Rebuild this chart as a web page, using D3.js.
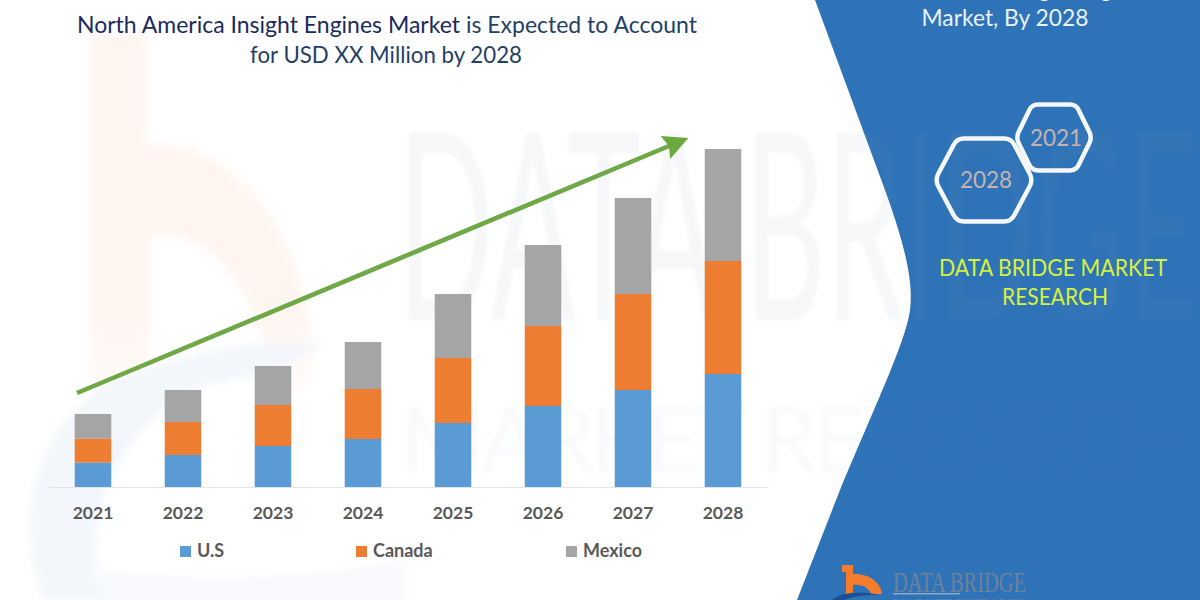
<!DOCTYPE html>
<html>
<head>
<meta charset="utf-8">
<script src="https://cdn.jsdelivr.net/npm/d3@7/dist/d3.min.js"></script>
<style>
html,body{margin:0;padding:0;background:#fff;overflow:hidden}
svg{display:block}
text{font-family:Lato,"Open Sans",sans-serif}
</style>
</head>
<body>
<svg id="chart" width="1200" height="600"></svg>
<script>
const years = ["2021","2022","2023","2024","2025","2026","2027","2028"];
const seriesNames = ["U.S","Canada","Mexico"];
const usValues = [24.5,32,41,48,64,81,97,113];
const canadaValues = [24,33,41,50,65,80,96,113];
const mexicoValues = [24.5,32,39,47,64,81,96,112];
const seriesColors = ["#5B9BD5","#ED7D31","#A5A5A5"];
const trendValues = [94,350];

const svg = d3.select("#chart");
const width = 1200, height = 600;

const x = d3.scaleBand().domain(years).range([48,768]).paddingInner(0.594).paddingOuter(0.297);
const y = d3.scaleLinear().domain([0,338]).range([487,149]);

const rows = years.map((year,i)=>({year,"U.S":usValues[i],"Canada":canadaValues[i],"Mexico":mexicoValues[i]}));
const stacked = d3.stack().keys(seriesNames)(rows);
const color = d3.scaleOrdinal().domain(seriesNames).range(seriesColors);

/* background */
const defs = svg.append("defs");
const fade = defs.append("linearGradient").attr("id","peachFade").attr("x1",0).attr("x2",0).attr("y1",0).attr("y2",1);
fade.append("stop").attr("offset",0.7).attr("stop-color","#fff5f0");
fade.append("stop").attr("offset",1).attr("stop-color","#fff5f0").attr("stop-opacity",0.1);
defs.append("filter").attr("id","soft").attr("x","-10%").attr("y","-10%").attr("width","120%").attr("height","120%")
  .append("feGaussianBlur").attr("stdDeviation",4);
defs.append("filter").attr("id","softText").append("feGaussianBlur").attr("stdDeviation",1.5);

const marker = defs.append("marker").attr("id","arrowHead").attr("markerUnits","userSpaceOnUse")
  .attr("viewBox","0 0 30 30").attr("refX",4).attr("refY",15).attr("markerWidth",30).attr("markerHeight",30).attr("orient","auto");
marker.append("path").attr("d","M0,2.5L25,15L0,27.5L4,15Z").attr("fill","#6BA83F");

const bg = svg.append("g");
bg.append("rect").attr("width",width).attr("height",height).attr("fill","#fff");
const soft = bg.append("g").attr("filter","url(#soft)");
soft.append("path").attr("fill","url(#peachFade)")
  .attr("d","M90,35H147V145C225,140 300,215 312,345C316,385 300,400 265,395C272,320 225,225 150,235V400C120,405 100,410 90,430Z");
soft.append("path").attr("fill","#f3f6fb")
  .attr("d","M45,600C8,510 40,410 130,375C190,350 270,338 325,345C285,365 270,375 240,378C170,388 130,430 102,500C90,550 95,580 105,600Z");
soft.append("path").attr("fill","#f7f9fc")
  .attr("d","M102,570Q250,590 405,560L405,610H105Z");

/* blue panel */
svg.append("path").attr("fill","#2E73B8")
  .attr("d","M815,0L885,190C903,240 914,280 910,310C906,340 880,395 840,490L797,600H1200V0Z");

/* word watermark, over both the white ground and the panel */
const wm = svg.append("g").attr("fill","#6F8CAB").attr("filter","url(#softText)");
wm.append("text").attr("x",398).attr("y",320).attr("font-size",262).attr("fill-opacity",0.07)
  .attr("textLength",800).attr("lengthAdjust","spacingAndGlyphs").text("DATA BRIDGE");
wm.append("text").attr("x",400).attr("y",472).attr("font-size",92).attr("fill-opacity",0.04)
  .attr("textLength",790).attr("lengthAdjust","spacing").text("MARKET RESEARCH");

/* title */
const t1 = svg.append("text").attr("x",387).attr("y",33).attr("text-anchor","middle")
  .attr("font-size",23).attr("textLength",620).attr("lengthAdjust","spacingAndGlyphs");
t1.append("tspan").attr("fill","#1B2A5C").text("North America Insight Engines Market ");
t1.append("tspan").attr("fill","#243F66").text("is Expected to Account");
svg.append("text").attr("x",386).attr("y",63).attr("text-anchor","middle").attr("fill","#243F66")
  .attr("font-size",23).attr("textLength",272).attr("lengthAdjust","spacingAndGlyphs").text("for USD XX Million by 2028");

/* bars */
svg.append("g").selectAll("g").data(stacked).join("g").attr("fill",d=>color(d.key))
  .selectAll("rect").data(d=>d).join("rect")
  .attr("x",d=>x(d.data.year)).attr("width",x.bandwidth())
  .attr("y",d=>y(d[1])).attr("height",d=>y(d[0])-y(d[1]));

/* axis */
const axis = svg.append("g").attr("transform",`translate(0,${y(0)})`)
  .call(d3.axisBottom(x).tickSize(0).tickPadding(20));
axis.select(".domain").attr("stroke","#e4e4e4").attr("stroke-width",1);
axis.selectAll("text").style("font-family","Lato").attr("font-size",17.5).attr("font-weight",700).attr("fill","#595959");

/* trend arrow */
const trendX = [x("2021")+x.bandwidth()/2-16, x("2028")+x.bandwidth()/2-54];
const trendLine = d3.line().x((d,i)=>trendX[i]).y(d=>y(d));
svg.append("path").attr("d",trendLine([trendValues[0],trendValues[1]-9])).attr("fill","none")
  .attr("stroke","#6FA847").attr("stroke-width",4.6).attr("marker-end","url(#arrowHead)");

/* legend */
const legendX = d3.scaleOrdinal().domain(seriesNames).range([180,356,566]);
const lg = svg.append("g").selectAll("g").data(seriesNames).join("g")
  .attr("transform",d=>`translate(${legendX(d)},546)`);
lg.append("rect").attr("width",11).attr("height",11).attr("fill",d=>color(d));
lg.append("text").attr("x",17).attr("y",11).attr("font-size",18).attr("font-weight",700)
  .attr("fill","#595959").text(d=>d);

/* right panel text */
const panel = svg.append("g").attr("text-anchor","middle");
panel.append("text").attr("x",1005).attr("y",-3).attr("fill","#EAF2FA").attr("font-size",23.5)
  .attr("textLength",290).attr("lengthAdjust","spacingAndGlyphs").text("North America Insight Engines");
panel.append("text").attr("x",1005).attr("y",26).attr("fill","#EAF2FA").attr("font-size",23.5)
  .attr("textLength",167).attr("lengthAdjust","spacingAndGlyphs").text("Market, By 2028");

function hexPath(cx,cy,w,h,top,r){
  const p=[[cx-w/2,cy],[cx-top/2,cy-h/2],[cx+top/2,cy-h/2],[cx+w/2,cy],[cx+top/2,cy+h/2],[cx-top/2,cy+h/2]];
  const path=d3.path();
  p.forEach((v,i)=>{
    const a=p[(i+5)%6],b=p[(i+1)%6];
    const la=Math.hypot(a[0]-v[0],a[1]-v[1]),lb=Math.hypot(b[0]-v[0],b[1]-v[1]);
    const s=[v[0]+(a[0]-v[0])*r/la,v[1]+(a[1]-v[1])*r/la],e=[v[0]+(b[0]-v[0])*r/lb,v[1]+(b[1]-v[1])*r/lb];
    if(i===0)path.moveTo(s[0],s[1]);else path.lineTo(s[0],s[1]);
    path.quadraticCurveTo(v[0],v[1],e[0],e[1]);
  });
  path.closePath();
  return path.toString();
}
const hexes=[{label:"2028",cx:984,cy:180,w:98,h:83,top:54,r:7,fs:22.5},{label:"2021",cx:1054,cy:137.5,w:76,h:66,top:44,r:6,fs:22.5}];
const hg=svg.append("g").selectAll("g").data(hexes).join("g");
hg.append("path").attr("d",d=>hexPath(d.cx,d.cy,d.w,d.h,d.top,d.r)).attr("fill","none").attr("stroke","#F4F8FC").attr("stroke-width",4.5);
hg.append("text").attr("x",d=>d.cx+2).attr("y",d=>d.cy+8).attr("text-anchor","middle").attr("font-size",d=>d.fs)
  .attr("fill","#C8B3AE").text(d=>d.label);

const yellow="#D6F23C";
panel.append("text").attr("x",1053).attr("y",276).attr("fill",yellow).attr("font-size",22.5)
  .attr("textLength",228).attr("lengthAdjust","spacingAndGlyphs").text("DATA BRIDGE MARKET");
panel.append("text").attr("x",1055).attr("y",305).attr("fill",yellow).attr("font-size",22.5)
  .attr("textLength",106).attr("lengthAdjust","spacingAndGlyphs").text("RESEARCH");

/* bottom logo */
svg.append("path").attr("fill","#F47C2C")
  .attr("d","M842,565H853V574C868,573 881,582 882,594H871C869,588 862,584 853,585V594H846V572H842Z");
svg.append("path").attr("fill","#1D4E96").attr("d","M832,600C840,593 860,590 878,595C860,595 850,597 845,600Z");
svg.append("text").attr("x",893).attr("y",592).style("font-family","'Liberation Serif'").attr("font-size",30)
  .attr("fill","#6F8298").attr("textLength",133).attr("lengthAdjust","spacingAndGlyphs").text("DATA BRIDGE");
svg.append("rect").attr("x",893).attr("y",593).attr("width",67).attr("height",1.5).attr("fill","#8FA8C4");
svg.append("text").attr("x",893).attr("y",607).style("font-family","'Liberation Serif'").attr("font-size",13)
  .attr("fill","#6F8298").attr("textLength",133).attr("lengthAdjust","spacing").text("MARKET RESEARCH");
</script>
</body>
</html>
